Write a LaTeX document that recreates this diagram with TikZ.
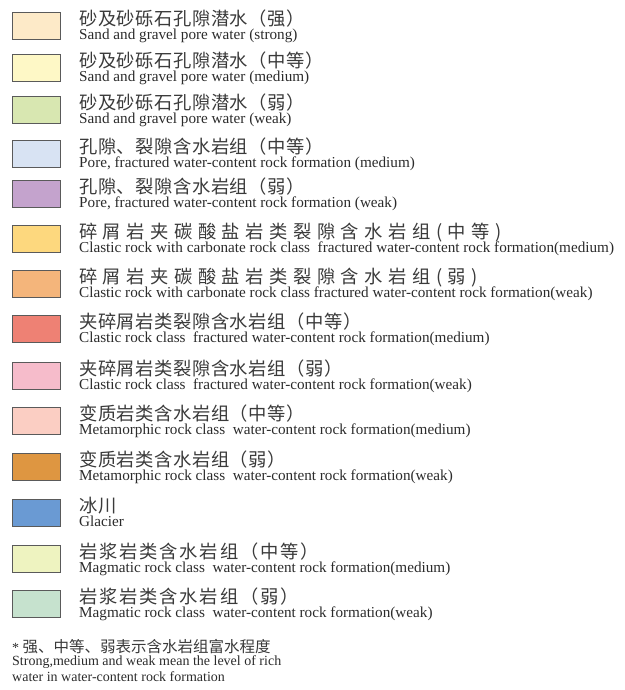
\documentclass[tikz,border=0pt]{standalone}
\usepackage{fontspec}
\setmainfont{Liberation Serif}
\newfontfamily\cjk{Noto Sans CJK SC}[LetterSpace=3]
\newfontfamily\cjkw{Noto Sans CJK SC}[LetterSpace=30]
\newfontfamily\cjkm{Noto Sans CJK SC}[LetterSpace=10]
\newfontfamily\cjkn{Noto Sans CJK SC}
\definecolor{txt}{HTML}{2B2B2B}
\definecolor{zhtxt}{HTML}{3A3A3A}
\definecolor{boxline}{HTML}{5A5A5A}
\definecolor{cA}{HTML}{FDEAC8}
\definecolor{cB}{HTML}{FEF8C6}
\definecolor{cC}{HTML}{D8E7B1}
\definecolor{cD}{HTML}{D8E3F3}
\definecolor{cE}{HTML}{C4A3CD}
\definecolor{cF}{HTML}{FDD87E}
\definecolor{cG}{HTML}{F4B57B}
\definecolor{cH}{HTML}{EE8174}
\definecolor{cI}{HTML}{F6BCCB}
\definecolor{cJ}{HTML}{FBCEC3}
\definecolor{cK}{HTML}{DE9641}
\definecolor{cL}{HTML}{6A9AD3}
\definecolor{cM}{HTML}{EEF3C0}
\definecolor{cN}{HTML}{C6E2CE}
\newcommand\legendrow[6]{%
  \node[swatch, fill=#3] (box#1) at (36,#2+13.5) {};
  \node[zh, font=\fontsize{18.3}{18.3}#6] (zh#1) at (79,#2+13) {#4};
  \node[en] (en#1) at (79,#2+27) {#5};
}
\begin{document}
\begin{tikzpicture}[x=1pt,y=-1pt,
  swatch/.style={draw=boxline, line width=1pt, minimum width=48pt, minimum height=27pt, inner sep=0pt},
  zh/.style={anchor=base west, inner sep=0pt, text=zhtxt},
  en/.style={anchor=base west, inner sep=0pt, text=txt, font=\fontsize{15.2}{15.2}\selectfont},
  note/.style={anchor=base west, inner sep=0pt, text=txt, font=\fontsize{14}{14}\selectfont}]
\useasboundingbox (0,0) rectangle (624,690);
\legendrow{1}{13}{cA}{砂及砂砾石孔隙潜水（强）}{Sand and gravel pore water (strong)}{\cjk}
\legendrow{2}{55}{cB}{砂及砂砾石孔隙潜水（中等）}{Sand and gravel pore water (medium)}{\cjk}
\legendrow{3}{97}{cC}{砂及砂砾石孔隙潜水（弱）}{Sand and gravel pore water (weak)}{\cjk}
\legendrow{4}{140}{cD}{孔隙、裂隙含水岩组（中等）}{Pore, fractured water-content rock formation (medium)}{\cjk}
\legendrow{5}{180}{cE}{孔隙、裂隙含水岩组（弱）}{Pore, fractured water-content rock formation (weak)}{\cjk}
\legendrow{6}{225}{cF}{碎屑岩夹碳酸盐岩类裂隙含水岩组(中等)}{Clastic rock with carbonate rock class\ \ fractured water-content rock formation(medium)}{\cjkw}
\legendrow{7}{270}{cG}{碎屑岩夹碳酸盐岩类裂隙含水岩组(弱)}{Clastic rock with carbonate rock class fractured water-content rock formation(weak)}{\cjkw}
\legendrow{8}{315}{cH}{夹碎屑岩类裂隙含水岩组（中等）}{Clastic rock class\ \ fractured water-content rock formation(medium)}{\cjk}
\legendrow{9}{362}{cI}{夹碎屑岩类裂隙含水岩组（弱）}{Clastic rock class\ \ fractured water-content rock formation(weak)}{\cjk}
\legendrow{10}{407}{cJ}{变质岩类含水岩组（中等）}{Metamorphic rock class\ \ water-content rock formation(medium)}{\cjk}
\legendrow{11}{453}{cK}{变质岩类含水岩组（弱）}{Metamorphic rock class\ \ water-content rock formation(weak)}{\cjk}
\legendrow{12}{499}{cL}{冰川}{Glacier}{\cjk}
\legendrow{13}{545}{cM}{岩浆岩类含水岩组（中等）}{Magmatic rock class\ \ water-content rock formation(medium)}{\cjkm}
\legendrow{14}{590}{cN}{岩浆岩类含水岩组（弱）}{Magmatic rock class\ \ water-content rock formation(weak)}{\cjkm}
\node[note] (fnzh) at (12,652) {*\ {\fontsize{15.5}{15.5}\cjkn\color{zhtxt}强、中等、弱表示含水岩组富水程度}};
\node[note] (fnen1) at (12,665.5) {Strong,medium and weak mean the level of rich};
\node[note] (fnen2) at (12,681.5) {water in water-content rock formation};
\end{tikzpicture}
\end{document}
